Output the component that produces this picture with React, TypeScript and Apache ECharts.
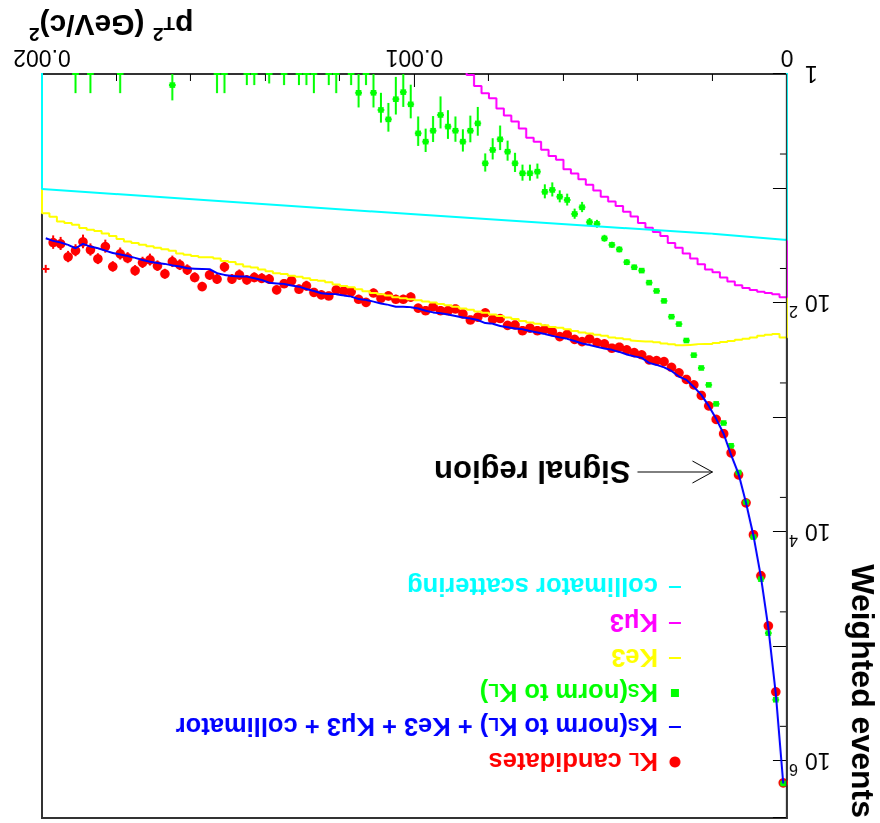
import React, { useEffect, useRef } from 'react';
import * as echarts from 'echarts';

const FONT = "'Liberation Sans', Arial, Helvetica, sans-serif";
const RED = '#ff0000';
const BLUE = '#0000ff';
const GREEN = '#00ff00';
const YELLOW = '#ffff00';
const MAGENTA = '#ff00ff';
const CYAN = '#00ffff';

// ---- axes ----
const X_MIN = 0;
const X_MAX = 0.002;
const N_BINS = 100;
const BIN_W = (X_MAX - X_MIN) / N_BINS;
const Y_MIN = 1;
const Y_MAX = 3162278;
const FLOOR = 0.1; // below axis minimum: histogram edges run off the frame
const xTickValues = [0, 0.001, 0.002];
const xTickLabels = ['0', '0.001', '0.002'];
const yMinorTicks = [5, 50, 500, 5000, 50000, 500000];

// ---- data (one value per bin of width 2e-5 (GeV/c)^2) ----
const klCandidates = [
  1.56e6, 2.5e5, 6.62e4, 2.42e4, 1.06e4, 5580, 3180, 2040, 1390, 1040,
  794, 643, 520, 466, 408, 365, 326, 319, 315, 284,
  272, 257, 244, 249, 228, 222, 206, 218, 208, 188,
  197, 178, 170, 175, 166, 175, 156, 157, 137, 139,
  122, 133, 141, 125, 113, 117, 117, 108, 117, 111,
  89, 93, 93, 87, 91, 82, 99, 93, 80, 79,
  77, 87, 85, 81, 71, 76, 64, 68, 77, 62,
  61, 60, 63, 57, 62, 48.5, 62, 57, 72, 60,
  51.5, 46.6, 43.6, 55.8, 47.5, 42.1, 44.5, 52.2, 40.5, 37.3,
  48.2, 32.2, 41.3, 34.4, 29.3, 34.9, 39.6, 30.5, 29.7, 50.5,
];
const klErrors = [
  2500, 1000, 500, 300, 200, 120, 80, 60, 45, 35,
  30, 26, 23, 21, 19, 18, 17, 16, 16, 15,
  14, 14, 13, 13, 12, 12, 12, 12, 12, 11,
  11, 11, 11, 11, 10, 10, 10, 10, 9, 9,
  9, 9, 9, 9, 9, 9, 9, 8, 9, 8,
  8, 8, 8, 8, 8, 7, 8, 8, 7, 7,
  7, 7, 7, 7, 7, 7, 6, 6, 7, 6,
  6, 6, 6, 6, 6, 5.5, 6, 6, 6.5, 6,
  5.5, 5, 5, 5.5, 5, 5, 5, 5.5, 4.5, 4.5,
  5, 4.2, 4.5, 4.2, 4, 4.2, 4.5, 4, 4, 4,
];
const klNoMarkerBins = [99];

const totalModel = [
  1.58e6, 2.6e5, 6.9e4, 2.47e4, 1.08e4, 5580, 3110, 2130, 1390, 1030,
  794, 636, 542, 470, 440, 393, 366, 348, 334, 302,
  293, 282, 268, 257, 250, 242, 233, 226, 215, 206,
  200, 194, 187, 181, 176, 170, 167, 163, 159, 152,
  150, 141, 137, 134, 130, 126, 123, 121, 117, 112,
  109, 108, 108, 104, 101, 97.4, 94.2, 92.3, 88.1, 86,
  84, 83.4, 82.3, 78.6, 75.5, 72.1, 70.3, 68.2, 67.6, 66.5,
  63, 60.9, 58.9, 58.7, 58.1, 56.9, 55, 50.8, 50.5, 50.2,
  49.8, 48, 47, 45.6, 44.7, 43.6, 42.1, 40.4, 38.9, 37.7,
  36.6, 34.9, 33.3, 32.2, 30.5, 33.3, 31.1, 29.7, 28.7, 27.2,
];

const ksNorm = [
  1.58e6, 2.93e5, 7.67e4, 2.59e4, 1.11e4, 5500, 3030, 1770, 1120, 762,
  520, 370, 286, 213, 153, 132, 96, 78.6, 66.5, 52.2,
  48.8, 44.1, 34.1, 31.1, 27.3, 20.4, 19.7, 14.6, 16.7, 12.6,
  11.8, 10.3, 10.7, 7.13, 7.37, 7.37, 6.03, 4.77, 3.72, 4.61,
  6.03, 2.7, 3.13, 3.9, 3.13, 2.88, 2.28, 3.13, 3.9, 3.3,
  1.84, 1.44, 1.66, 2.49, 2.06, 1.46, 0, 1.46, 0, 0,
  0, 0, 0, 0, 0, 0, 0, 0, 0, 0,
  0, 0, 0, 0, 0, 0, 0, 0, 0, 0,
  0, 0, 1.25, 0, 0, 0, 0, 0, 0, 0,
  0, 0, 0, 0, 0, 0, 0, 0, 0, 0,
];
const ksNormErrors = [
  500, 200, 100, 60, 40, 28, 20, 16, 13, 11,
  9, 8, 7, 6, 5, 4.5, 3.8, 3.2, 2.7, 2.6,
  2.5, 2.7, 2.1, 1.9, 1.9, 1.6, 1.6, 1.5, 1.7, 1.5,
  1.42, 1.45, 1.5, 1.07, 1.18, 1.18, 1.15, 0.95, 0.9, 0.97,
  1.09, 0.76, 0.82, 0.86, 0.78, 0.81, 0.71, 0.8, 0.9, 0.95,
  0.6, 0.5, 0.6, 0.7, 0.6, 0.5, 1.25, 0.5, 1.25, 0,
  1.47, 1.25, 0, 1.47, 1.25, 1.25, 0, 1.25, 0, 1.21,
  0, 1.25, 1.25, 0, 0, 1.47, 1.47, 0, 0, 0,
  0, 0, 0.45, 0, 0, 0, 0, 0, 0, 1.47,
  0, 0, 0, 1.47, 0, 1.47, 0, 0, 0, 0,
];

const ke3 = [
  200, 187, 190, 194, 200, 206, 210, 215, 219, 224,
  228, 230, 233, 234, 234, 230, 226, 221, 217, 215,
  213, 208, 204, 200, 194, 190, 185, 181, 176, 170,
  165, 162, 157, 152, 148, 144, 138, 134, 130, 126,
  122, 119, 115, 112, 108, 105, 102, 99, 97, 95,
  93, 91, 89, 86, 84, 82, 79, 76, 73, 71,
  69, 66, 64, 63, 61, 59, 58, 56, 55, 53,
  51, 49, 48, 46, 44, 43, 41, 40, 40, 39,
  38, 37, 35, 34, 33, 32, 31, 30, 29, 27.6,
  26, 24.7, 23.5, 23, 22.1, 20.8, 20, 19.4, 17.7, 16.5,
];

const kmu3 = [
  89, 84, 82, 80, 77, 74, 70, 65, 60, 54,
  51, 46, 41, 37, 33, 30, 26, 24, 22, 20,
  17.6, 16, 14.2, 13, 11.8, 10.4, 9.3, 8.3, 7.4, 6.8,
  5.6, 5.2, 4.6, 3.9, 3.6, 3.0, 2.6, 2.3, 2.0, 1.63,
  1.47, 1.27, 1.02, 0.88,
];

const collimatorX = [0, 0.0002, 0.00098, 0.002];
const collimatorY = [28.2, 24.9, 17.0, 10.1];

const signalCut = 0.0002;
const arrowLevel = 3000;

const legendLabels = [
  { text: '{m|K}{sub|L}{m| candidates}', color: RED, marker: 'circle' },
  { text: '{m|K}{sub|S}{m|(norm to K}{sub|L}{m|) + Ke3 + Kμ3 + collimator}', color: BLUE, marker: 'line' },
  { text: '{m|K}{sub|S}{m|(norm to K}{sub|L}{m|)}', color: GREEN, marker: 'square' },
  { text: '{m|Ke3}', color: YELLOW, marker: 'line' },
  { text: '{m|Kμ3}', color: MAGENTA, marker: 'line' },
  { text: '{m|collimator scattering}', color: CYAN, marker: 'line' },
];

// ---- layout ----
const LEG_ROWS = [61, 96, 130, 165, 200, 236];
const LEG_MARK_X = 205;
const LEG_TEXT_X = 222;

function histStep(vals: number[]) {
  const pts: number[][] = [[X_MIN, FLOOR]];
  vals.forEach((v, i) => pts.push([X_MIN + i * BIN_W, v]));
  const xe = X_MIN + vals.length * BIN_W;
  pts.push([xe, vals[vals.length - 1]]);
  pts.push([xe, FLOOR]);
  return pts;
}

function errRender(color: string, kind: 'circle' | 'square') {
  return (params: any, api: any) => {
    const x = api.value(0);
    const v = api.value(1);
    const e = api.value(2);
    const mk = api.value(3);
    if (!(v > 0) && !(e > 0)) return null;
    const yc = Math.max(v, Y_MIN);
    const c = api.coord([x, yc]);
    const hiV = Math.min(v + e, Y_MAX);
    const loV = Math.max(v - e, Y_MIN);
    const children: any[] = [];
    if (hiV > Y_MIN) {
      const hi = api.coord([x, hiV]);
      const lo = api.coord([x, loV]);
      children.push({ type: 'line', shape: { x1: c[0], y1: lo[1], x2: c[0], y2: hi[1] }, style: { stroke: color, lineWidth: 2 } });
    }
    const half = kind === 'circle' ? BIN_W / 2 : BIN_W * 0.45;
    const xl = api.coord([x - half, yc])[0];
    const xr = api.coord([x + half, yc])[0];
    children.push({ type: 'line', shape: { x1: xl, y1: c[1], x2: xr, y2: c[1] }, style: { stroke: color, lineWidth: 2 } });
    if (mk && v >= Y_MIN) {
      if (kind === 'circle') children.push({ type: 'circle', shape: { cx: c[0], cy: c[1], r: 4.8 }, style: { fill: color } });
      else children.push({ type: 'rect', shape: { x: c[0] - 2.8, y: c[1] - 2.8, width: 5.6, height: 5.6 }, style: { fill: color } });
    }
    return { type: 'group', children };
  };
}

function legendRich(color: string) {
  return {
    m: { fontSize: 25.5, fontWeight: 'bold', fontFamily: FONT, fill: color, lineHeight: 32 },
    sub: { fontSize: 17.5, fontWeight: 'bold', fontFamily: FONT, fill: color, padding: [6, 0, 0, 0] },
  };
}

function buildGraphic(tip: number[]) {
  const els: any[] = [];
  legendLabels.forEach((l, i) => {
    const y = LEG_ROWS[i];
    if (l.marker === 'circle') {
      els.push({ type: 'circle', shape: { cx: LEG_MARK_X, cy: y, r: 5.5 }, style: { fill: l.color } });
    } else if (l.marker === 'square') {
      els.push({ type: 'rect', shape: { x: LEG_MARK_X - 4, y: y - 4, width: 8, height: 8 }, style: { fill: l.color } });
    } else {
      els.push({ type: 'line', shape: { x1: LEG_MARK_X - 6, y1: y, x2: LEG_MARK_X + 6, y2: y }, style: { stroke: l.color, lineWidth: 2 } });
    }
    els.push({
      type: 'text', x: LEG_TEXT_X, y,
      style: {
        text: l.text, rich: legendRich(l.color), fill: l.color,
        font: `bold 25.5px ${FONT}`, align: 'left', verticalAlign: 'middle',
        textAlign: 'left', textVerticalAlign: 'middle',
      },
    });
  });
  // y title
  els.push({
    type: 'text', x: 17, y: 5, rotation: Math.PI / 2,
    style: {
      text: 'Weighted events', font: `bold 32px ${FONT}`, fill: '#000',
      align: 'right', verticalAlign: 'middle', textAlign: 'right', textVerticalAlign: 'middle',
    },
  });
  // x title
  els.push({
    type: 'text', x: 851, y: 797,
    style: {
      text: '{m|p}{sub|T}{sup|2}{m| (GeV/c)}{sup|2}', fill: '#000', font: `bold 30px ${FONT}`,
      align: 'right', verticalAlign: 'middle', textAlign: 'right', textVerticalAlign: 'middle',
      rich: {
        m: { fontSize: 30, fontWeight: 'bold', fontFamily: FONT, fill: '#000', lineHeight: 36 },
        sub: { fontSize: 19, fontWeight: 'bold', fontFamily: FONT, fill: '#000', padding: [4, 0, 0, 0] },
        sup: { fontSize: 19, fontWeight: 'bold', fontFamily: FONT, fill: '#000', padding: [0, 0, 18, 0] },
      },
    },
  });
  // signal region arrow
  const [tx, ty] = tip;
  els.push({ type: 'line', shape: { x1: tx, y1: ty, x2: tx + 75, y2: ty }, style: { stroke: '#000', lineWidth: 1 } });
  els.push({ type: 'polyline', shape: { points: [[tx + 20, ty - 11], [tx, ty], [tx + 20, ty + 11]] }, style: { stroke: '#000', lineWidth: 1, fill: 'none' } });
  els.push({
    type: 'text', x: tx + 82, y: ty,
    style: {
      text: 'Signal region', font: `bold 31px ${FONT}`, fill: '#000',
      align: 'left', verticalAlign: 'middle', textAlign: 'left', textVerticalAlign: 'middle',
    },
  });
  return els;
}

function xLabel(v: number) {
  const i = xTickValues.findIndex((t) => Math.abs(t - v) < 1e-9);
  return i >= 0 ? xTickLabels[i] : '';
}

function yLabel(v: number) {
  const e = Math.log10(v);
  const r = Math.round(e);
  if (Math.abs(e - r) > 0.01) return '';
  if (r === 0) return '{one|1}';
  if (r % 2 !== 0) return '';
  return `{b|10}{s|${r}}`;
}

export default function App() {
  const ref = useRef<HTMLDivElement>(null);
  useEffect(() => {
    const chart = echarts.init(ref.current as HTMLDivElement, null, { renderer: 'svg' });
    const option: any = {
      animation: false,
      backgroundColor: '#ffffff',
      textStyle: { fontFamily: FONT },
      grid: { left: 93, right: 42, top: 5, bottom: 74, show: true, borderColor: '#333', borderWidth: 2, backgroundColor: 'transparent' },
      xAxis: {
        type: 'value', min: X_MIN, max: X_MAX, interval: 0.001,
        axisLine: { show: false },
        axisTick: { show: true, inside: true, length: 13, lineStyle: { color: '#000', width: 1 } },
        minorTick: { show: true, splitNumber: 5, length: 7, lineStyle: { color: '#000', width: 1 } },
        splitLine: { show: false },
        minorSplitLine: { show: false },
        axisLabel: { margin: 4, fontSize: 23, color: '#000', fontFamily: FONT, formatter: xLabel },
      },
      yAxis: {
        type: 'log', logBase: 10, min: Y_MIN, max: Y_MAX,
        axisLine: { show: false },
        axisTick: { show: true, inside: true, length: 14, lineStyle: { color: '#000', width: 1 } },
        minorTick: { show: false },
        splitLine: { show: false },
        axisLabel: {
          margin: 2, color: '#000', fontFamily: FONT, fontSize: 23, formatter: yLabel,
          rich: {
            b: { fontSize: 23, fontFamily: FONT, color: '#000' },
            s: { fontSize: 16, fontFamily: FONT, color: '#000', padding: [0, 0, 18, 7] },
            one: { fontSize: 23, fontFamily: FONT, color: '#000', padding: [0, 16, 0, 0] },
          },
        },
      },
      series: [
        {
          name: 'Ke3', type: 'line', step: 'end', symbol: 'none', clip: true,
          data: histStep(ke3), lineStyle: { color: YELLOW, width: 2 },
        },
        {
          name: 'Kmu3', type: 'line', step: 'end', symbol: 'none', clip: true,
          data: histStep(kmu3), lineStyle: { color: MAGENTA, width: 2 },
        },
        {
          name: 'collimator scattering', type: 'line', symbol: 'none', clip: true,
          data: [[X_MIN, FLOOR], ...collimatorX.map((x, i) => [x, collimatorY[i]]), [X_MAX, FLOOR]],
          lineStyle: { color: CYAN, width: 2 },
          markLine: {
            silent: true, symbol: ['none', 'none'], label: { show: false },
            lineStyle: { color: '#333', width: 1.2, type: 'solid' },
            data: [{ xAxis: signalCut }],
          },
        },
        {
          name: 'yMinorTicks', type: 'custom', silent: true,
          data: yMinorTicks.map((v) => [X_MIN, v]),
          encode: { x: 0, y: 1 },
          renderItem: (params: any, api: any) => {
            const p = api.coord([api.value(0), api.value(1)]);
            return { type: 'line', shape: { x1: p[0], y1: p[1], x2: p[0] + 7, y2: p[1] }, style: { stroke: '#000', lineWidth: 1 } };
          },
        },
        {
          name: 'KL candidates', type: 'custom',
          data: klCandidates.map((v, i) => [X_MIN + (i + 0.5) * BIN_W, v, klErrors[i], klNoMarkerBins.includes(i) ? 0 : 1]),
          encode: { x: 0, y: 1 },
          renderItem: errRender(RED, 'circle'),
        },
        {
          name: 'total', type: 'line', symbol: 'none', clip: true,
          data: totalModel.map((v, i) => [X_MIN + (i + 0.5) * BIN_W, v]),
          lineStyle: { color: BLUE, width: 2 },
        },
        {
          name: 'KS', type: 'custom',
          data: ksNorm.map((v, i) => [X_MIN + (i + 0.5) * BIN_W, v, ksNormErrors[i], 1]),
          encode: { x: 0, y: 1 },
          renderItem: errRender(GREEN, 'square'),
        },
      ],
    };
    chart.setOption(option);
    const tip = chart.convertToPixel({ gridIndex: 0 }, [signalCut, arrowLevel]) as number[];
    chart.setOption({ graphic: buildGraphic(tip) });
    return () => chart.dispose();
  }, []);
  return (
    <div
      ref={ref}
      style={{ position: 'fixed', left: 0, top: 0, width: 880, height: 823, transform: 'rotate(180deg)', background: '#fff' }}
    />
  );
}
